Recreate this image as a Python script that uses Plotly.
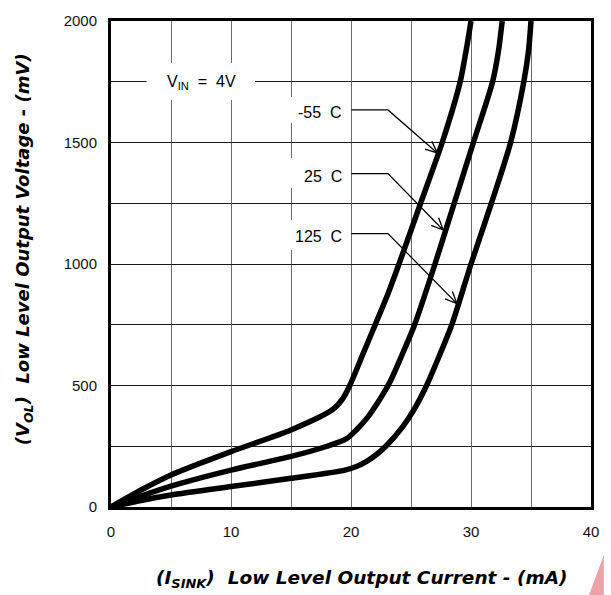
import math
import plotly.graph_objects as go

# ---------------- data ----------------
temps = ["-55&nbsp;&nbsp;C", "25&nbsp;&nbsp;C", "125&nbsp;&nbsp;C"]

x_m55 = [0, 2.5, 5, 10, 15, 18.5, 19.3, 19.9, 21.0, 22.1, 23.1, 24.0, 25.8, 27.6, 29.1, 29.6, 30.0]
y_m55 = [0, 70, 132, 228, 317, 402, 445, 500, 630, 760, 880, 1000, 1250, 1500, 1750, 1880, 2000]

x_25 = [0, 2.5, 5, 10, 15, 18, 19.6, 20.4, 21.4, 22.3, 23.2, 24.2, 25.3, 27.0, 28.6, 30.2, 31.8, 32.3, 32.6]
y_25 = [0, 45, 86, 152, 208, 250, 280, 315, 370, 435, 510, 620, 750, 1000, 1250, 1500, 1750, 1880, 2000]

x_125 = [0, 2.5, 5, 10, 15, 19.5, 20.5, 21.3, 22.1, 22.9, 24.3, 25.3, 26.3, 27.3, 28.4, 30.0, 31.7, 33.3, 34.4, 34.8, 35.0]
y_125 = [0, 27, 49, 84, 118, 152, 168, 188, 215, 250, 330, 405, 500, 615, 750, 1000, 1250, 1500, 1750, 1880, 2000]

x_ticks = [0, 10, 20, 30, 40]
y_ticks = [0, 500, 1000, 1500, 2000]

label_y = [1634, 1372, 1125]        # leader line heights (mV)
tip_x = [27.19, 27.68, 28.83]        # arrow tips
tip_y = [1457, 1140, 837]

# ---------------- layout geometry ----------------
W, H = 611, 595
L, R, T, B = 111, 13, 21, 88
PW, PH = W - L - R, H - T - B
PX_X = PW / 40.0
PX_Y = PH / 2000.0

FONT = "Liberation Sans, Arial, sans-serif"
TFONT = "DejaVu Sans, sans-serif"

fig = go.Figure()
for xs, ys in [(x_m55, y_m55), (x_25, y_25), (x_125, y_125)]:
    fig.add_trace(go.Scatter(x=xs, y=ys, mode="lines",
                             line=dict(color="black", width=5.5, shape="spline", smoothing=0.7),
                             showlegend=False, hoverinfo="skip", cliponaxis=True))

shapes = []
annotations = []

# white box behind V_IN label
shapes.append(dict(type="rect", xref="x", yref="y", x0=2.96, x1=12.0, y0=1675, y1=1827,
                   fillcolor="white", line=dict(width=0), layer="between"))
annotations.append(dict(x=7.5, y=1745, xref="x", yref="y", text="V<sub>IN</sub>&nbsp; = &nbsp;4V",
                        showarrow=False, font=dict(family=FONT, size=16, color="black")))

box_y = [(1580, 1687), (1313, 1436), (1058, 1181)]
for name, ly, tx, ty, (b0, b1) in zip(temps, label_y, tip_x, tip_y, box_y):
    shapes.append(dict(type="rect", xref="x", yref="y", x0=14.8, x1=19.8, y0=b0, y1=b1,
                       fillcolor="white", line=dict(width=0), layer="between"))
    annotations.append(dict(x=19.4, y=ly - 10, xref="x", yref="y", text=name, xanchor="right",
                            showarrow=False, font=dict(family=FONT, size=16, color="black")))
    xs0, xs1 = 20.04, 23.08
    dxp = (tx - xs1) * PX_X
    dyp = (ty - ly) * PX_Y
    n = math.hypot(dxp, dyp)
    bx, by = -dxp / n, -dyp / n
    pts = []
    for ang in (24, -24):
        a = math.radians(ang)
        rx = bx * math.cos(a) - by * math.sin(a)
        ry = bx * math.sin(a) + by * math.cos(a)
        pts.append((tx + 13 * rx / PX_X, ty + 13 * ry / PX_Y))
    path = (f"M {xs0},{ly} L {xs1},{ly} L {tx},{ty} "
            f"M {pts[0][0]},{pts[0][1]} L {tx},{ty} L {pts[1][0]},{pts[1][1]}")
    shapes.append(dict(type="path", xref="x", yref="y", path=path,
                       line=dict(color="black", width=1.3), layer="above"))

# axis titles
annotations.append(dict(x=(365 - L) / PW, y=-(579 - (T + PH)) / PH, xref="paper", yref="paper",
                        xanchor="center", yanchor="middle",
                        text="<b><i>(I<sub>SINK</sub>)&nbsp; Low Level Output Current - (mA)</i></b>",
                        showarrow=False, font=dict(family=TFONT, size=18.5, color="black")))
annotations.append(dict(x=-(L - 23) / PW, y=(T + PH - 249) / PH, xref="paper", yref="paper",
                        xanchor="center", yanchor="middle",
                        text="<b><i>(V<sub>OL</sub>)&nbsp; Low Level Output Voltage - (mV)</i></b>",
                        textangle=-90, showarrow=False, font=dict(family=TFONT, size=18, color="black")))

# corner watermark triangle
shapes.append(dict(type="path", xref="paper", yref="paper",
                   path=f"M {(596 - L) / PW},{-(595 - T - PH) / PH} L {(611 - L) / PW},{-(555 - T - PH) / PH} "
                        f"L {(611 - L) / PW},{-(595 - T - PH) / PH} Z",
                   fillcolor="#eba3aa", line=dict(width=0), layer="above"))

fig.update_layout(
    width=W, height=H,
    margin=dict(l=L, r=R, t=T, b=B, pad=0),
    paper_bgcolor="white", plot_bgcolor="white",
    shapes=shapes, annotations=annotations,
    font=dict(family=FONT, size=15, color="black"),
)
fig.update_xaxes(range=[0, 40], tickvals=x_ticks, ticktext=[str(v) for v in x_ticks],
                 showgrid=True, gridcolor="#6a6a6a", gridwidth=1,
                 minor=dict(dtick=5, showgrid=True, gridcolor="#6a6a6a", gridwidth=1),
                 showline=True, linecolor="black", linewidth=3, mirror=True,
                 ticks="outside", ticklen=9, tickcolor="rgba(0,0,0,0)",
                 tickfont=dict(family=FONT, size=15, color="#111"), zeroline=False, fixedrange=True)
fig.update_yaxes(range=[0, 2000], tickvals=y_ticks, ticktext=[str(v) for v in y_ticks],
                 showgrid=True, gridcolor="#1a1a1a", gridwidth=1,
                 minor=dict(dtick=250, showgrid=True, gridcolor="#1a1a1a", gridwidth=1),
                 showline=True, linecolor="black", linewidth=3, mirror=True,
                 ticks="outside", ticklen=8, tickcolor="rgba(0,0,0,0)",
                 tickfont=dict(family=FONT, size=15, color="#111"), zeroline=False, fixedrange=True)

fig.write_html("out.html", config={"displayModeBar": False},
               post_script="document.body.style.margin='0';document.body.style.overflow='hidden';")
